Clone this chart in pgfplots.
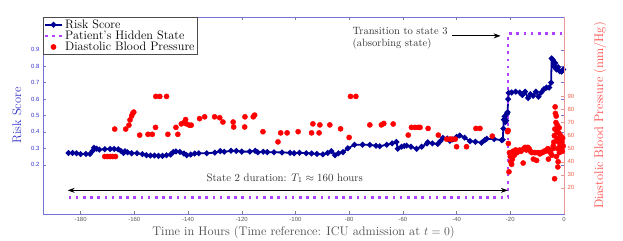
\documentclass[border=0pt]{standalone}
\usepackage{fontspec}
\usepackage{pgfplots}
\pgfplotsset{compat=1.18}
\usetikzlibrary{arrows.meta}
\newfontfamily\tickfont{Liberation Sans}
\definecolor{riskblue}{RGB}{0,0,150}
\definecolor{statepurple}{RGB}{178,64,255}
\definecolor{axblue}{RGB}{115,115,215}
\definecolor{lblblue}{RGB}{50,50,200}
\definecolor{axred}{RGB}{235,150,150}
\definecolor{lblred}{RGB}{255,70,70}
\definecolor{tickred}{RGB}{240,95,70}
\begin{document}
\begin{tikzpicture}
\begin{axis}[
  at={(0,0)}, anchor=south west,
  scale only axis, width=521bp, height=197bp,
  xmin=-194, xmax=0, ymin=-0.1, ymax=1.1,
  xtick={-180,-160,-140,-120,-100,-80,-60,-40,-20,0},
  ytick={0.2,0.3,0.4,0.5,0.6,0.7,0.8,0.9},
  yticklabel style={/pgf/number format/fixed,/pgf/number format/fixed zerofill,/pgf/number format/precision=1},
  /pgf/number format/assume math mode=true,
  tick align=inside,
  major tick length=3bp,
  xtick style={gray, line width=0.4pt},
  ytick style={axblue, line width=0.4pt},
  axis line style={axblue, line width=0.6pt},
  xticklabel style={font=\tickfont\fontsize{6}{7}\selectfont, text=black!65},
  yticklabel style={font=\tickfont\fontsize{6}{7}\selectfont, text=lblblue},
  xlabel={Time in Hours (Time reference: ICU admission at $t=0$)},
  xlabel style={font=\fontsize{12.5}{14}\selectfont, text=black!70, at={(axis description cs:0.5,-0.092)}, anchor=center},
  ylabel={Risk Score},
  ylabel style={font=\fontsize{12.5}{14}\selectfont, text=lblblue, at={(axis description cs:-0.05,0.5)}, anchor=center},
  legend style={at={(0,1)}, anchor=north west, font=\fontsize{12.3}{11}\selectfont,
    draw=black!70, line width=0.5pt, fill=white, inner sep=0.5pt, row sep=-3pt,
    cells={anchor=west}},
  legend cell align=left,
]
\addplot[riskblue, line width=1.8pt, mark=*, mark size=1.9pt] coordinates {
(-184.5,0.272) (-183,0.272) (-181.5,0.27) (-180,0.265) (-178,0.266) (-176.5,0.266) (-175.5,0.285) (-175,0.303) (-174,0.298) (-173,0.292) (-171,0.295) (-169,0.296) (-167.5,0.296) (-166,0.294) (-165,0.285) (-164,0.272) (-163.5,0.282) (-162.5,0.276) (-161,0.27) (-159,0.27) (-157,0.265) (-155.5,0.258) (-154,0.256) (-152.5,0.256) (-151,0.254) (-149.5,0.254) (-148,0.258) (-146.5,0.262) (-145.5,0.278) (-144.5,0.281) (-143,0.278) (-141.5,0.268) (-140.5,0.258) (-139,0.262) (-137.5,0.268) (-136,0.27) (-133,0.27) (-130,0.274) (-128,0.283) (-126.5,0.279) (-124,0.285) (-122,0.284) (-120,0.28) (-117,0.28) (-115,0.285) (-114,0.276) (-112,0.279) (-110.5,0.277) (-108,0.276) (-105,0.275) (-102,0.273) (-100.5,0.27) (-98.5,0.273) (-96,0.27) (-94,0.269) (-92,0.266) (-89.8,0.263) (-88,0.272) (-86.6,0.283) (-85.3,0.258) (-84,0.27) (-82.3,0.277) (-80.5,0.3) (-78,0.322) (-75,0.322) (-72.3,0.321) (-70,0.316) (-68.6,0.313) (-66,0.322) (-64,0.33) (-62.4,0.339) (-61.9,0.298) (-60.5,0.31) (-59.5,0.314) (-58.6,0.317) (-57,0.31) (-54.9,0.297) (-53,0.31) (-51,0.33) (-50.7,0.337) (-49,0.33) (-47,0.327) (-46,0.345) (-45.1,0.364) (-43.5,0.36) (-42.5,0.345) (-41.4,0.354) (-40,0.37) (-38.8,0.378) (-37,0.365) (-35,0.344) (-33,0.34) (-30.7,0.334) (-29.5,0.35) (-28.8,0.358) (-26,0.356) (-23.2,0.35) (-22.8,0.352) (-22.6,0.42) (-22.4,0.475) (-22.1,0.495) (-21.8,0.46) (-21.5,0.47) (-21.2,0.51) (-21,0.52) (-20.8,0.6) (-20.6,0.638) (-19.5,0.64) (-18,0.645) (-16.5,0.64) (-15.5,0.625) (-14.5,0.645) (-13.4,0.606) (-12.5,0.63) (-11.5,0.62) (-10.5,0.645) (-9.5,0.615) (-8.5,0.64) (-7.5,0.66) (-6.5,0.67) (-5.5,0.67) (-4.8,0.7) (-4.6,0.848) (-4.2,0.84) (-3.8,0.8) (-3.3,0.82) (-2.8,0.78) (-2.2,0.795) (-1.6,0.77) (-0.9,0.767) (-0.3,0.78)
};
\addlegendentry{Risk Score}
\addplot[statepurple, line width=2.5pt, dash pattern=on 2.6bp off 4.6bp] coordinates {
(-184.5,0) (-20.8,0) (-20.8,1) (0,1)
};
\addlegendentry{Patient's Hidden State}
\addlegendimage{only marks, mark=*, red, mark size=2.6pt}
\addlegendentry{Diastolic Blood Pressure}
\draw[black, line width=0.8pt, {Stealth[length=7bp,width=5bp]}-{Stealth[length=7bp,width=5bp]}] (axis cs:-184.8,0.044) -- (axis cs:-20.9,0.044);
\node[font=\fontsize{10.8}{12}\selectfont, text=black!80] at (axis cs:-104,0.118) {State 2 duration: $T_1\approx 160$ hours};
\draw[black, line width=0.8pt, -{Stealth[length=7bp,width=5bp]}] (axis cs:-41.6,0.985) -- (axis cs:-23.6,0.985);
\node[font=\fontsize{10.6}{12}\selectfont, text=black!80, align=left, anchor=west] at (axis cs:-80,0.972) {Transition to state 3\\(absorbing state)};
\end{axis}
\begin{axis}[
  at={(0,0)}, anchor=south west,
  scale only axis, width=521bp, height=197bp,
  xmin=-194, xmax=0, ymin=0, ymax=150.8,
  axis x line=none,
  axis y line*=right,
  ytick={20,30,40,50,60,70,80,90},
  tick align=inside,
  major tick length=3bp,
  ytick style={axred, line width=0.4pt},
  axis line style={axred, line width=0.6pt},
  /pgf/number format/assume math mode=true,
  yticklabel style={font=\tickfont\fontsize{6}{7}\selectfont, text=tickred},
  ylabel={Diastolic Blood Pressure (mm/Hg)},
  ylabel style={font=\fontsize{12.5}{14}\selectfont, text=lblred, at={(axis description cs:1.069,0.5)}, anchor=center},
]
\addplot[only marks, mark=*, red, mark size=2.6pt] coordinates {
(-171,44) (-170,44) (-169,44) (-168,44) (-167,44) (-167.3,65) (-163.2,65) (-162,68) (-161.6,72) (-161,75) (-160.2,78) (-160.6,77) (-158,60.4) (-154.9,61) (-153.3,61) (-152.1,66.3) (-152,90) (-150.5,90) (-148,90) (-147.5,61) (-144.5,66.3) (-143.8,61) (-142.5,69) (-141.5,70) (-140.9,72.3) (-140.6,69) (-139.5,68) (-138.8,68) (-135.7,73) (-133.8,74.4) (-130.1,74.4) (-128.2,73.7) (-127,70.4) (-123.2,70.4) (-123,66.6) (-118.8,74.4) (-118.9,66.6) (-115.7,74.4) (-115.2,75.7) (-112.1,63) (-106.5,55.2) (-105.5,62.1) (-103.1,62.1) (-99,63) (-94,62.1) (-93.5,69) (-91.2,62.1) (-90.9,68.2) (-87.2,68.2) (-83.2,65.2) (-80,58.6) (-79.5,90) (-77.5,90) (-72.3,68.2) (-68,68.2) (-67.1,69.3) (-63.6,68.9) (-58,60.4) (-56.8,66.3) (-55.5,66.3) (-54.3,66.3) (-53.6,66.3) (-50.6,65.5) (-46.8,60.4) (-43.7,57.3) (-42.5,57.3) (-41.8,57.3) (-40.5,57.3) (-40,51.5) (-36.3,51.5) (-32.8,65.5) (-31.3,65.5) (-26.7,59.6) (-21,63) (-20.8,64) (-20.7,54) (-20.5,32.3)
(-20.3,47) (-20,44) (-19.8,40) (-19.5,38) (-19.2,42) (-19,48) (-18.5,45) (-18,49) (-17.5,47) (-17,48) (-16.5,49) (-16,48) (-15.2,39) (-15,50) (-14.5,51) (-14,49) (-13.5,51) (-13,50) (-12.5,48) (-12,47) (-11.4,42) (-11,47) (-10.5,47) (-10.2,41) (-9.5,47) (-9,46) (-8.5,47) (-8,47) (-7.5,48) (-7,48) (-6.5,49) (-6,50) (-5.8,42) (-5.5,48) (-5,47) (-4.5,45) (-4.2,50) (-4,52) (-3.8,55) (-3.6,60) (-3.5,27) (-3.4,65) (-3.3,82) (-3.2,77) (-3,70) (-2.9,75) (-2.8,44) (-2.7,58) (-2.6,63) (-2.5,68) (-2.4,50) (-2.3,36) (-2.2,40) (-2,55) (-1.9,62) (-1.8,66) (-1.7,47) (-1.5,52) (-1.3,57) (-1.2,60) (-1,50) (-0.8,55) (-0.6,48) (-0.5,58) (-0.3,52)
};
\end{axis}
\pgfresetboundingbox
\path (-43bp,-27bp) rectangle (580bp,214bp);
\end{tikzpicture}
\end{document}
